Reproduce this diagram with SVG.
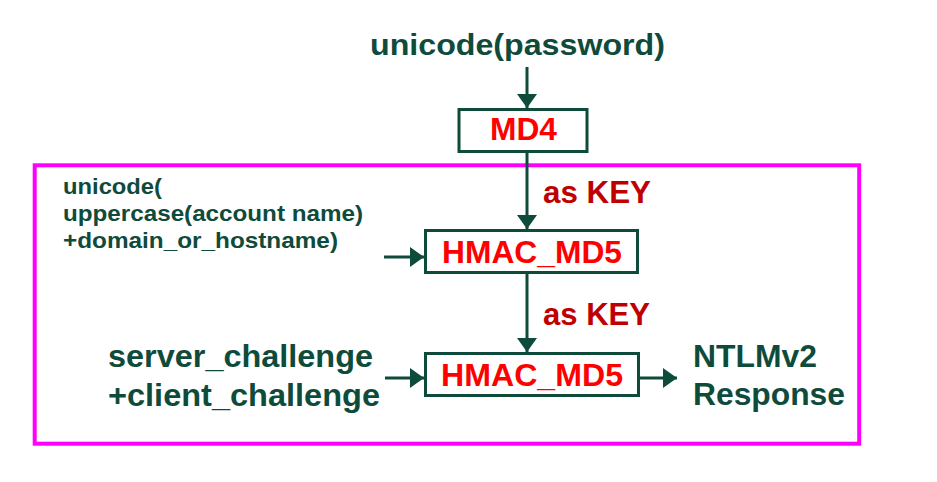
<svg xmlns="http://www.w3.org/2000/svg" width="937" height="482" viewBox="0 0 937 482">
<style>
.t{font-family:"Liberation Sans",Arial,sans-serif;font-weight:bold;}
.g{fill:#0f4b3b;}
.r{fill:#ff0000;}
.k{fill:#c00000;}
.box{fill:#ffffff;stroke:#0f4b3b;stroke-width:3;}
.ln{stroke:#0f4b3b;stroke-width:3;fill:none;marker-end:url(#ah);}
</style>
<defs>
<marker id="ah" viewBox="0 0 14 20" refX="14" refY="10" markerWidth="14" markerHeight="20" markerUnits="userSpaceOnUse" orient="auto">
<path d="M0,0 L14,10 L0,20 z" fill="#0f4b3b"/>
</marker>
</defs>
<rect x="34.7" y="165.3" width="824.5" height="278.4" fill="none" stroke="#ff00ff" stroke-width="4"/>
<g id="connectors">
<line class="ln" x1="527" y1="67" x2="527" y2="108"/>
<line class="ln" x1="527" y1="152" x2="527" y2="229"/>
<line class="ln" x1="527" y1="274" x2="527" y2="352"/>
<line class="ln" x1="384" y1="257" x2="424" y2="257"/>
<line class="ln" x1="385" y1="378" x2="424" y2="378"/>
<line class="ln" x1="639" y1="378" x2="677" y2="378"/>
<text class="t k" x="543" y="203" font-size="30.5" textLength="108" lengthAdjust="spacingAndGlyphs">as KEY</text>
<text class="t k" x="543" y="325" font-size="30.5" textLength="107" lengthAdjust="spacingAndGlyphs">as KEY</text>
</g>
<g id="password">
<text class="t g" x="370" y="55" font-size="30" textLength="295" lengthAdjust="spacingAndGlyphs">unicode(password)</text>
</g>
<g id="md4">
<rect class="box" x="459" y="109.5" width="128" height="42"/>
<text class="t r" x="490" y="140" font-size="30.5" textLength="67" lengthAdjust="spacingAndGlyphs">MD4</text>
</g>
<g id="account">
<text class="t g" x="63" y="194" font-size="22.5" textLength="99" lengthAdjust="spacingAndGlyphs">unicode(</text>
<text class="t g" x="63" y="221" font-size="22.5" textLength="300" lengthAdjust="spacingAndGlyphs">uppercase(account name)</text>
<text class="t g" x="63" y="248" font-size="22.5" textLength="275" lengthAdjust="spacingAndGlyphs">+domain_or_hostname)</text>
</g>
<g id="hmac1">
<rect class="box" x="425.5" y="230.5" width="212" height="42"/>
<text class="t r" x="442" y="262.5" font-size="30.5" textLength="180" lengthAdjust="spacingAndGlyphs">HMAC_MD5</text>
</g>
<g id="challenge">
<text class="t g" x="108" y="367" font-size="30.5" textLength="265" lengthAdjust="spacingAndGlyphs">server_challenge</text>
<text class="t g" x="108" y="406" font-size="30.5" textLength="272" lengthAdjust="spacingAndGlyphs">+client_challenge</text>
</g>
<g id="hmac2">
<rect class="box" x="425.5" y="353.5" width="213" height="42"/>
<text class="t r" x="441" y="385.5" font-size="30.5" textLength="182" lengthAdjust="spacingAndGlyphs">HMAC_MD5</text>
</g>
<g id="response">
<text class="t g" x="693" y="367" font-size="30.5" textLength="124" lengthAdjust="spacingAndGlyphs">NTLMv2</text>
<text class="t g" x="693" y="405" font-size="30.5" textLength="152" lengthAdjust="spacingAndGlyphs">Response</text>
</g>
</svg>
